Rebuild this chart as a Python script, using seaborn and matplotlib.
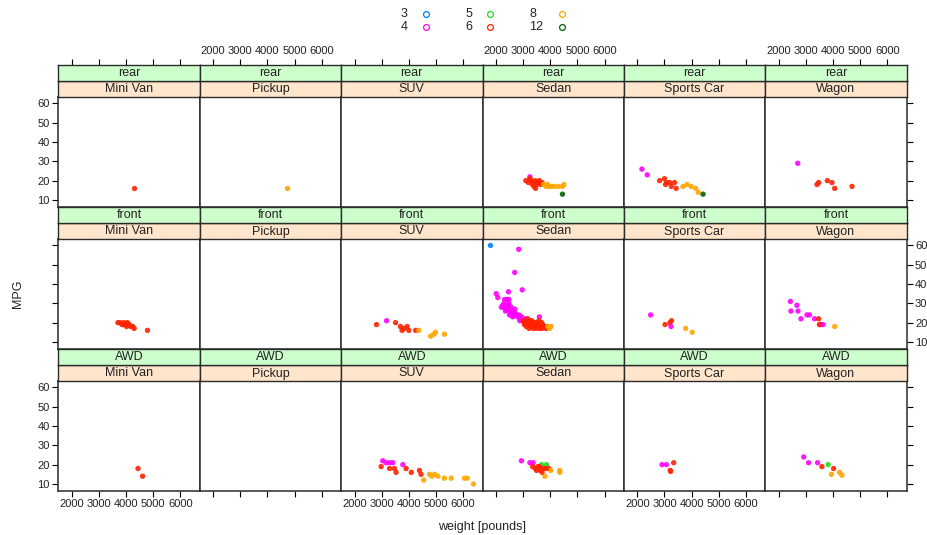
import matplotlib
matplotlib.use("Agg")
import matplotlib.pyplot as plt
import pandas as pd
import seaborn as sns
from matplotlib.lines import Line2D

# ---------------- data ----------------
DRIVES = ["rear", "front", "AWD"]
TYPES = ["Mini Van", "Pickup", "SUV", "Sedan", "Sports Car", "Wagon"]
CYLINDERS = [3, 4, 5, 6, 8, 12]
CYL_COLORS = ["#0080ff", "#ff00ff", "#22dd22", "#ff2200", "#ffa500", "#006400"]
X_TICKS = [2000, 3000, 4000, 5000, 6000]
Y_TICKS = [10, 20, 30, 40, 50, 60]

# rear drive
rear_minivan_weight = [4280]
rear_minivan_mpg = [16]
rear_minivan_cyl = [6]

rear_pickup_weight = [4720]
rear_pickup_mpg = [16]
rear_pickup_cyl = [8]

rear_sedan_weight = [3250, 3100, 3200, 3300, 3350, 3400, 3450, 3500, 3550, 3600, 3650, 3250, 3400, 3700, 3460,
                     3750, 3850, 3950, 4050, 4150, 4300, 4450, 4500, 3900, 4450]
rear_sedan_mpg = [22, 20, 19, 20, 18, 19, 20, 18, 19, 20, 18, 21, 17, 19, 16,
                  18, 17, 17, 17, 17, 17, 17, 18, 18, 13]
rear_sedan_cyl = [4, 6, 6, 6, 6, 6, 6, 6, 6, 6, 6, 6, 6, 6, 6,
                  8, 8, 8, 8, 8, 8, 8, 8, 8, 12]

rear_sports_weight = [2170, 2365, 2820, 3000, 3190, 3370, 3040, 3250, 3430, 3080,
                      3680, 3830, 3980, 4150, 4240, 4420]
rear_sports_mpg = [26, 23, 20, 21, 19, 19, 18, 17, 16, 19,
                   17, 18, 17, 16, 14, 13]
rear_sports_cyl = [4, 4, 6, 6, 6, 6, 6, 6, 6, 6,
                   8, 8, 8, 8, 8, 12]

rear_wagon_weight = [2700, 3410, 3470, 3790, 3960, 4060, 4700]
rear_wagon_mpg = [29, 18, 19, 20, 19, 16, 17]
rear_wagon_cyl = [4, 6, 6, 6, 6, 6, 6]

# front drive
front_minivan_weight = [3700, 3780, 3850, 3920, 4000, 4050, 4120, 4180, 4250, 4300, 3900, 4020, 4790]
front_minivan_mpg = [20, 20, 19, 20, 19, 20, 19, 18, 18, 17, 19, 18, 16]
front_minivan_cyl = [6, 6, 6, 6, 6, 6, 6, 6, 6, 6, 6, 6, 6]

front_suv_weight = [2810, 3180, 3510, 3690, 3820, 3940, 4000, 3750, 4250, 4370, 4800, 4920, 4980, 5310]
front_suv_mpg = [19, 21, 20, 18, 17, 18, 16, 16, 16, 16, 13, 14, 15, 14]
front_suv_cyl = [6, 4, 6, 6, 6, 6, 6, 6, 6, 8, 8, 8, 8, 8]

front_sedan_weight = [1800,
                      2840, 2690, 2970, 2460, 2010, 2070, 2320, 2400, 2480, 2250, 2200, 2300, 2380, 2450,
                      2500, 2350, 2550, 2600, 2650, 2700, 2420, 2750, 2800, 2850, 2900, 2950, 2620, 2500,
                      2980, 3600, 2700, 2560, 2300, 2480, 3100, 2880,
                      3000, 3050, 3100, 3150, 3200, 3250, 3300, 3350, 3400, 3450, 3500, 3550, 3600, 3650,
                      3700, 3750, 3800, 3850, 3900, 3120, 3220, 3320, 3420, 3520, 3620, 3720, 3170, 3280,
                      3380, 3480, 3580, 3680, 3050,
                      3910, 4030, 3980]
front_sedan_mpg = [60,
                   58, 46, 37, 36, 35, 33, 32, 32, 32, 29, 28, 28, 27, 29,
                   26, 26, 25, 26, 24, 25, 27, 24, 23, 24, 22, 23, 23, 24,
                   21, 23, 27, 28, 30, 30, 22, 21,
                   21, 20, 19, 20, 19, 21, 18, 20, 19, 18, 19, 18, 17, 18,
                   17, 18, 18, 17, 18, 18, 17, 21, 20, 20, 19, 19, 22, 19,
                   17, 17, 21, 20, 19,
                   18, 18, 17]
front_sedan_cyl = [3,
                   4, 4, 4, 4, 4, 4, 4, 4, 4, 4, 4, 4, 4, 4,
                   4, 4, 4, 4, 4, 4, 4, 4, 4, 4, 4, 4, 4, 4,
                   4, 4, 4, 4, 4, 4, 4, 4,
                   6, 6, 6, 6, 6, 6, 6, 6, 6, 6, 6, 6, 6, 6,
                   6, 6, 6, 6, 6, 6, 6, 6, 6, 6, 6, 6, 6, 6,
                   6, 6, 6, 6, 6,
                   8, 8, 8]

front_sports_weight = [2490, 3020, 3200, 3260, 3240, 3780, 4020]
front_sports_mpg = [24, 19, 20, 21, 18, 17, 15]
front_sports_cyl = [4, 6, 6, 6, 4, 8, 8]

front_wagon_weight = [2430, 2670, 2450, 2710, 2820, 3040, 3130, 3320, 3470, 3500, 3530, 3630, 4060]
front_wagon_mpg = [31, 29, 26, 26, 22, 24, 24, 22, 22, 19, 19, 19, 18]
front_wagon_cyl = [4, 4, 4, 4, 4, 4, 4, 4, 6, 6, 6, 4, 8]

# all-wheel drive
awd_minivan_weight = [4440, 4610]
awd_minivan_mpg = [18, 14]
awd_minivan_cyl = [6, 6]

awd_suv_weight = [3040, 3160, 3290, 3410, 3780,
                  2980, 3290, 3470, 3530, 3900, 4090, 4390, 4450,
                  4550, 4760, 4850, 4950, 5070, 5310, 5560, 6050, 6150, 6380]
awd_suv_mpg = [22, 21, 21, 21, 20,
               19, 18, 18, 16, 18, 16, 17, 15,
               12, 15, 14, 15, 14, 13, 13, 13, 13, 10]
awd_suv_cyl = [4, 4, 4, 4, 4,
               6, 6, 6, 6, 6, 6, 6, 6,
               8, 8, 8, 8, 8, 8, 8, 8, 8, 8]

awd_sedan_weight = [2940, 3250, 3370, 3680, 3860,
                    3350, 3450, 3550, 3650, 3750, 3850, 3950, 3500, 3700, 3600,
                    4020, 4350, 4350, 3800]
awd_sedan_mpg = [22, 21, 21, 20, 20,
                 19, 18, 19, 17, 18, 18, 18, 17, 16, 19,
                 17, 17, 16, 14]
awd_sedan_cyl = [4, 4, 4, 5, 5,
                 6, 6, 6, 6, 6, 6, 6, 6, 6, 6,
                 8, 8, 8, 8]

awd_sports_weight = [2910, 3070, 3340, 3210, 3230]
awd_sports_mpg = [20, 20, 21, 17, 16.5]
awd_sports_cyl = [4, 4, 6, 6, 6]

awd_wagon_weight = [2920, 3100, 3430, 3590, 3820, 4020, 3940, 4240, 4330]
awd_wagon_mpg = [24, 21, 21, 19, 20, 18, 15, 16, 14.5]
awd_wagon_cyl = [4, 4, 4, 6, 5, 6, 8, 8, 8]

PANELS = {
    ("rear", "Mini Van"): (rear_minivan_weight, rear_minivan_mpg, rear_minivan_cyl),
    ("rear", "Pickup"): (rear_pickup_weight, rear_pickup_mpg, rear_pickup_cyl),
    ("rear", "Sedan"): (rear_sedan_weight, rear_sedan_mpg, rear_sedan_cyl),
    ("rear", "Sports Car"): (rear_sports_weight, rear_sports_mpg, rear_sports_cyl),
    ("rear", "Wagon"): (rear_wagon_weight, rear_wagon_mpg, rear_wagon_cyl),
    ("front", "Mini Van"): (front_minivan_weight, front_minivan_mpg, front_minivan_cyl),
    ("front", "SUV"): (front_suv_weight, front_suv_mpg, front_suv_cyl),
    ("front", "Sedan"): (front_sedan_weight, front_sedan_mpg, front_sedan_cyl),
    ("front", "Sports Car"): (front_sports_weight, front_sports_mpg, front_sports_cyl),
    ("front", "Wagon"): (front_wagon_weight, front_wagon_mpg, front_wagon_cyl),
    ("AWD", "Mini Van"): (awd_minivan_weight, awd_minivan_mpg, awd_minivan_cyl),
    ("AWD", "SUV"): (awd_suv_weight, awd_suv_mpg, awd_suv_cyl),
    ("AWD", "Sedan"): (awd_sedan_weight, awd_sedan_mpg, awd_sedan_cyl),
    ("AWD", "Sports Car"): (awd_sports_weight, awd_sports_mpg, awd_sports_cyl),
    ("AWD", "Wagon"): (awd_wagon_weight, awd_wagon_mpg, awd_wagon_cyl),
}

# ---------------- style ----------------
sns.set_theme(style="white")
plt.rcParams["font.family"] = ["Liberation Sans", "DejaVu Sans"]
plt.rcParams["axes.linewidth"] = 1.0

W, H = 928, 535
fig = plt.figure(figsize=(W / 100, H / 100), dpi=100)
fig.patch.set_facecolor("white")

LEFT = 58.3
PW = 141.4
PH = 110.0
SH = 16.0
ROW_TOPS = [96.7, 238.7, 380.7]
XLIM = (1506, 6712)
YLIM = (6.5, 63.5)
EDGE = "#2b2b2b"
TICK_FS = 8
palette = dict(zip(CYLINDERS, CYL_COLORS))


def rect(px_left, px_top, pw, ph):
    return [px_left / W, 1 - (px_top + ph) / H, pw / W, ph / H]


for r, drive in enumerate(DRIVES):
    top = ROW_TOPS[r]
    for c, typ in enumerate(TYPES):
        L = LEFT + c * PW
        ax = fig.add_axes(rect(L, top, PW, PH))
        key = (drive, typ)
        if key in PANELS:
            w, m, cy = PANELS[key]
            df = pd.DataFrame({"weight": w, "mpg": m, "cyl": cy})
            sns.scatterplot(data=df, x="weight", y="mpg", hue="cyl", hue_order=CYLINDERS,
                            palette=palette, legend=False, s=15, linewidth=0,
                            alpha=0.9, ax=ax)
        ax.set_xlim(*XLIM)
        ax.set_ylim(*YLIM)
        ax.set_xlabel("")
        ax.set_ylabel("")
        ax.set_facecolor("white")
        for sp in ax.spines.values():
            sp.set_color(EDGE)
            sp.set_linewidth(1.1)
        ax.set_xticks(X_TICKS)
        ax.set_yticks(Y_TICKS)
        ax.tick_params(axis="both", which="both", direction="out", length=4, width=0.8,
                       color="black", labelsize=TICK_FS, labelcolor="#222222", pad=2)
        # x ticks: bottom only on last row
        if r == 2:
            ax.tick_params(axis="x", bottom=True, top=False, labelbottom=(c % 2 == 0), labeltop=False)
        else:
            ax.tick_params(axis="x", bottom=False, top=False, labelbottom=False, labeltop=False)
        # y ticks: left on first column, right on last column
        if c == 0:
            ax.tick_params(axis="y", left=True, right=False, labelleft=(r != 1), labelright=False)
        elif c == 5:
            ax.tick_params(axis="y", left=False, right=True, labelleft=False, labelright=(r == 1))
        else:
            ax.tick_params(axis="y", left=False, right=False, labelleft=False, labelright=False)

        # strips: peach (type) directly above, green (drive) above that
        sp_ax = fig.add_axes(rect(L, top - SH, PW, SH))
        gr_ax = fig.add_axes(rect(L, top - 2 * SH, PW, SH))
        for sax, col, txt in ((sp_ax, "#ffe5cc", typ), (gr_ax, "#ccffcc", drive)):
            sax.set_facecolor(col)
            sax.set_xlim(*XLIM)
            sax.set_ylim(0, 1)
            sax.set_yticks([])
            for spn in sax.spines.values():
                spn.set_color(EDGE)
                spn.set_linewidth(1.0)
            sax.text(0.5, 0.45, txt, transform=sax.transAxes, ha="center", va="center",
                     fontsize=9, color="#222222")
            sax.set_xticks(X_TICKS)
            sax.tick_params(axis="x", bottom=False, top=False, labelbottom=False, labeltop=False)
        if r == 0:
            gr_ax.tick_params(axis="x", top=True, direction="out", length=4, width=0.8,
                              color="black", labeltop=(c % 2 == 1), labelsize=TICK_FS,
                              labelcolor="#222222", pad=2)

# axis labels
fig.text(482.5 / W, 1 - 527 / H, "weight [pounds]", ha="center", va="center", fontsize=9, color="#222222")
fig.text(18 / W, 1 - 294 / H, "MPG", ha="center", va="center", rotation=90, fontsize=9, color="#222222")

# key at top
LEG_TEXT_X = [401, 465.5, 529]
LEG_MARK_X = [425.7, 490, 561.7]
LEG_Y = [14.3, 26.7]
for i, (cyl, col) in enumerate(zip(CYLINDERS, CYL_COLORS)):
    cidx, ridx = i // 2, i % 2
    y = 1 - LEG_Y[ridx] / H
    fig.text(LEG_TEXT_X[cidx] / W, y, str(cyl), ha="left", va="center", fontsize=9, color="#222222")
    fig.add_artist(Line2D([LEG_MARK_X[cidx] / W], [y], marker="o", markersize=4.2,
                          markerfacecolor="none", markeredgecolor=col, markeredgewidth=0.9,
                          linestyle="none", transform=fig.transFigure))

fig.savefig("out.png", dpi=100, facecolor="white")
